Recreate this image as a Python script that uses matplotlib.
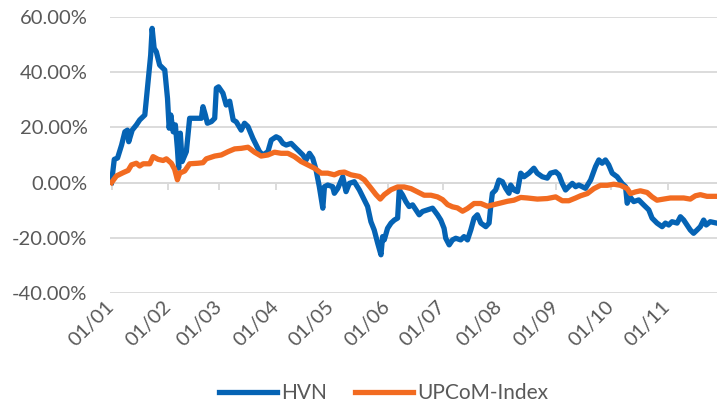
import pandas as pd
import numpy as np
import matplotlib
matplotlib.use("Agg")
import matplotlib.pyplot as plt
import matplotlib.dates as mdates

# days since 01/01 and cumulative change (%)
hvn_day = [0, 1.5, 3.3, 5.5, 7.3, 8.7, 9.4, 11.3, 13.6, 15.4, 17.3, 18.2, 20.0, 21.4, 22.2,
           23.3, 24.5, 26.3, 29.1, 30.6, 31.5, 32.4, 33.7, 34.9, 36.0, 36.7, 37.6, 38.6,
           40.9, 42.7, 49.1, 50.0, 51.3, 52.4, 54.6, 56.4, 57.3, 58.5, 60.9, 62.7, 64.6,
           66.5, 68.2, 70.9, 72.7, 74.6, 77.3, 79.1, 80.9, 82.8, 85.5, 87.3, 90.0, 91.8,
           93.7, 95.5, 98.2, 100.9, 104.6, 106.4, 108.2, 110.0, 111.8, 113.6, 114.6, 115.5,
           116.4, 118.2, 120.9, 121.8, 123.7, 126.4, 128.2, 130.0, 132.7, 135.5, 138.2,
           140.0, 141.8, 143.6, 145.5, 147.3, 148.2, 149.1, 150.9, 152.8, 154.6, 156.4,
           157.3, 159.1, 160.9, 162.7, 164.6, 166.4, 168.2, 170.0, 172.7, 175.5, 178.2,
           180.0, 181.8, 182.7, 184.6, 186.4, 188.2, 190.9, 192.7, 194.6, 196.4, 198.2,
           200.0, 201.9, 204.6, 206.4, 207.3, 208.2, 210.0, 211.8, 213.7, 215.5, 217.3,
           218.2, 220.0, 221.9, 223.7, 225.5, 228.2, 230.9, 232.7, 235.5, 238.2, 240.0,
           242.8, 244.6, 246.4, 248.2, 250.0, 251.9, 253.7, 255.5, 259.1, 261.9, 264.6,
           266.4, 268.2, 270.0, 271.8, 273.7, 276.4, 279.1, 281.0, 281.9, 283.3, 285.5,
           288.2, 290.9, 293.7, 295.5, 298.2, 301.0, 302.8, 304.6, 306.4, 309.2, 311.0,
           312.8, 314.6, 316.4, 318.2, 320.1, 321.9, 323.7, 325.1, 327.3, 330.1]
hvn_pct = [0.0, 8.4, 8.9, 13.6, 18.4, 19.0, 14.8, 19.0, 20.9, 22.7, 23.9, 24.5, 36.6, 46.2, 55.9,
           48.7, 47.4, 42.6, 40.8, 30.5, 19.7, 24.5, 18.4, 20.9, 12.4, 5.2, 17.9, 7.6,
           11.2, 23.3, 23.3, 27.5, 24.5, 21.5, 22.1, 23.3, 34.2, 34.7, 32.4, 28.1, 29.5,
           22.7, 22.0, 19.0, 21.5, 20.3, 16.0, 13.6, 11.2, 10.0, 11.2, 15.4, 16.6, 16.0,
           14.2, 13.6, 14.2, 12.4, 10.0, 8.2, 10.6, 8.8, 4.6, -1.5, -5.7, -9.3,
           -1.5, -0.9, -1.5, -3.9, -2.1, 2.1, -3.3, -0.3, 0.3, -2.7, -6.3,
           -8.7, -14.2, -17.2, -22.0, -26.2, -19.6, -20.8, -16.6, -14.7, -13.6, -12.9,
           -2.7, -4.5, -6.9, -8.7, -8.1, -9.9, -11.7, -10.5, -9.9, -9.3, -11.7,
           -13.6, -16.6, -20.2, -22.6, -20.8, -20.2, -20.8, -19.6, -20.8, -17.2, -12.9,
           -11.7, -14.7, -16.0, -14.7, -8.7, -3.9, -2.7, 0.9, 0.3, -2.1, -3.9,
           -0.9, -2.7, -3.3, 3.4, 2.1, 3.4, 5.2, 3.4, 2.1, 1.6, 3.4,
           3.9, 2.8, -0.3, -2.7, -1.5, -0.3, -1.5, -0.9, -2.1, 0.9, 5.8,
           8.2, 7.0, 8.2, 6.4, 3.4, 2.1, -0.3, -1.5, -7.5, -5.1, -6.9,
           -6.3, -8.1, -9.9, -12.9, -14.7, -16.0, -14.7, -15.4, -14.2, -14.7, -12.4,
           -13.6, -15.4, -17.2, -18.4, -17.2, -16.0, -13.6, -15.4, -14.2, -14.6]

upcom_day = [0, 2.7, 6.4, 9.1, 10.9, 13.6, 15.4, 17.3, 20.9, 22.7, 25.5, 28.2, 30.0, 32.7,
             34.5, 36.0, 37.3, 40.0, 42.7, 47.3, 50.0, 51.8, 56.4, 60.0, 63.7, 67.3, 70.9,
             74.6, 78.2, 81.8, 85.5, 89.1, 92.7, 96.4, 100.0, 103.7, 107.3, 110.9, 114.6,
             118.2, 121.8, 124.6, 127.3, 130.9, 135.5, 138.2, 141.8, 144.6, 146.9, 149.1,
             152.8, 156.4, 160.0, 163.7, 167.3, 170.9, 174.6, 178.2, 181.0, 183.7, 186.4,
             189.1, 191.9, 194.6, 198.2, 201.9, 205.5, 209.1, 212.8, 216.4, 220.0, 223.7,
             227.3, 232.8, 238.2, 242.8, 246.4, 250.0, 253.7, 256.4, 260.1, 263.7, 267.3,
             271.0, 274.6, 278.2, 281.9, 283.7, 286.4, 289.1, 292.8, 295.5, 298.2, 301.8,
             305.5, 309.2, 312.8, 316.4, 319.2, 321.9, 325.5, 330.1]
upcom_pct = [0.0, 2.4, 3.6, 4.4, 6.4, 7.0, 6.0, 6.8, 6.8, 9.4, 8.4, 8.0, 8.6, 7.0,
             4.8, 1.0, 3.4, 4.2, 6.8, 7.0, 7.2, 8.6, 9.6, 10.0, 11.2, 12.2, 12.4,
             12.8, 11.0, 9.6, 10.0, 11.0, 10.6, 10.6, 9.4, 7.6, 6.4, 5.2, 3.4,
             3.4, 2.8, 3.6, 3.8, 2.8, 2.2, 1.0, -2.0, -4.4, -6.0, -4.4,
             -2.6, -1.6, -1.6, -2.2, -3.4, -4.6, -4.6, -5.2, -6.2, -8.0, -8.8,
             -9.2, -10.4, -9.4, -7.6, -7.6, -8.6, -8.0, -7.4, -6.8, -6.4, -5.4,
             -5.6, -6.0, -5.8, -5.2, -6.6, -6.6, -5.6, -4.8, -4.0, -2.2, -1.0,
             -1.0, -0.6, -1.0, -2.2, -4.0, -3.4, -3.0, -3.6, -5.2, -6.4, -6.0,
             -5.6, -5.6, -5.6, -6.0, -4.8, -4.4, -5.0, -5.0]

year_start = pd.Timestamp("2023-01-01")
hvn_dates = year_start + pd.to_timedelta(hvn_day, unit="D")
upcom_dates = year_start + pd.to_timedelta(upcom_day, unit="D")
month_ticks = pd.date_range("2023-01-01", "2023-11-01", freq="MS")

blue = "#0563b4"
orange = "#f26b21"
grey_txt = "#595959"
grid_col = "#d9d9d9"

plt.rcParams["font.family"] = ["Lato", "DejaVu Sans"]

fig = plt.figure(figsize=(7.17, 4.16), dpi=100)
ax = fig.add_axes([0.153, 0.296, 0.847, 0.663])

ax.plot(hvn_dates, hvn_pct, color=blue, lw=3.8, solid_joinstyle="round", label="HVN", zorder=3)
ax.plot(upcom_dates, upcom_pct, color=orange, lw=3.8, solid_joinstyle="round",
        label="UPCoM-Index", zorder=4)

ax.set_ylim(-40, 60)
ax.set_yticks(np.arange(-40, 61, 20))
ax.set_yticklabels(["%.2f%%" % v for v in np.arange(-40, 61, 20)])
ax.set_xlim(year_start - pd.Timedelta(days=1), year_start + pd.Timedelta(days=331))
ax.grid(axis="y", color=grid_col, lw=1.3)
ax.set_axisbelow(True)
for s in ax.spines.values():
    s.set_visible(False)

ax.set_xticks(month_ticks)
ax.xaxis.set_major_formatter(mdates.DateFormatter("%d/%m"))
ax.tick_params(axis="y", length=0, pad=16, labelsize=14.5, labelcolor=grey_txt)
ax.tick_params(axis="x", length=0, pad=8, labelsize=14.5, labelcolor=grey_txt)
for lbl in ax.get_xticklabels():
    lbl.set_rotation(45)
    lbl.set_ha("right")
    lbl.set_va("center")
    lbl.set_rotation_mode("anchor")

# axis line at 0% with month ticks
zero_ax = ax.secondary_xaxis(0.4)
zero_ax.set_xticks(month_ticks)
zero_ax.tick_params(axis="x", direction="out", length=5, width=1.3, color=grid_col,
                    labelbottom=False, labeltop=False)
zero_ax.spines["bottom"].set_visible(False)
zero_ax.spines["top"].set_visible(False)
ax.axhline(0, color=grid_col, lw=1.3, zorder=1)

fig.legend(loc="lower center", bbox_to_anchor=(0.535, -0.015), ncol=2, frameon=False,
           handlelength=2.8, handletextpad=0.2, columnspacing=1.3,
           prop={"size": 15}, labelcolor=grey_txt)

fig.savefig("out.png", dpi=100)
